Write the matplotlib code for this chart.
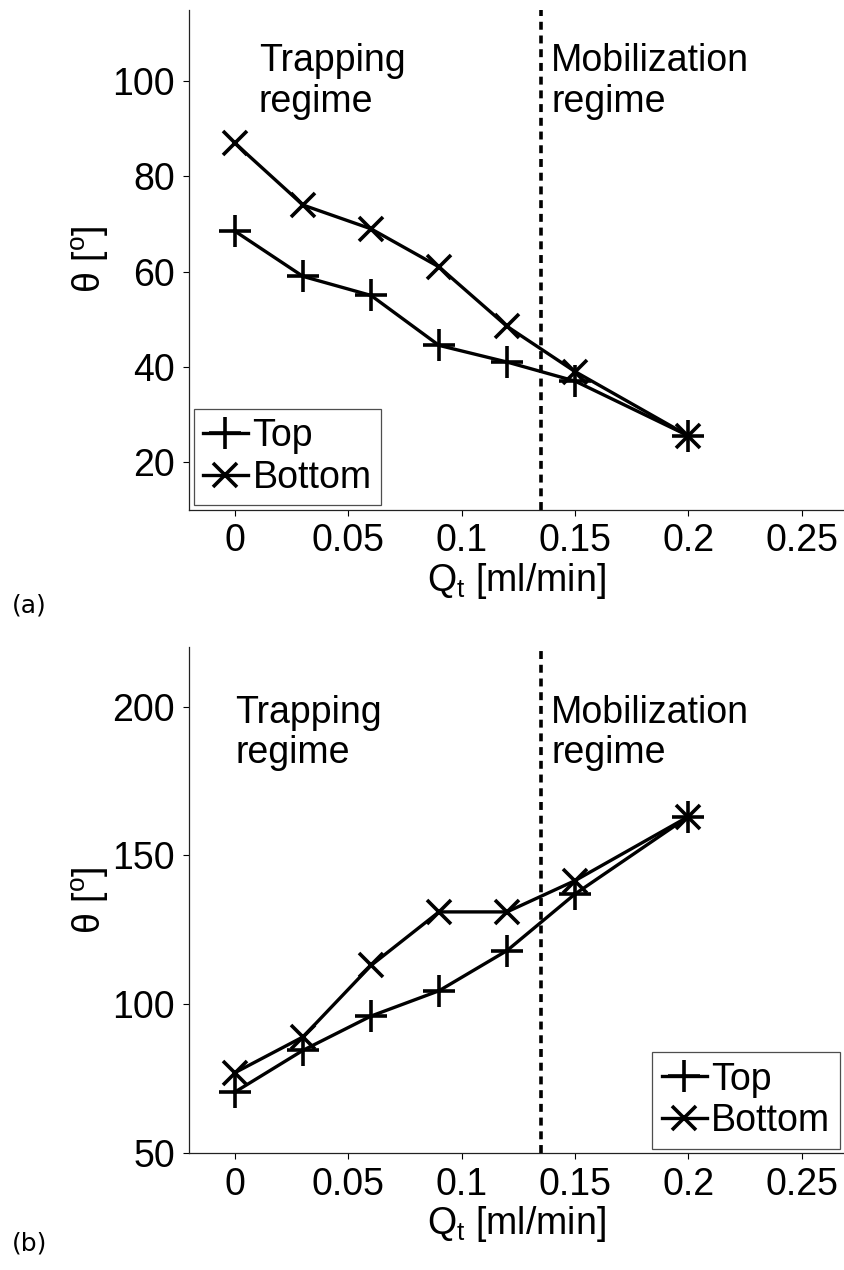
import matplotlib
matplotlib.use("Agg")
import matplotlib.pyplot as plt

plt.rcParams["font.family"] = ["Liberation Sans", "DejaVu Sans"]
plt.rcParams["mathtext.fontset"] = "custom"
plt.rcParams["mathtext.rm"] = "Liberation Sans"
plt.rcParams["mathtext.it"] = "Liberation Sans:italic"

# Flow rates [ml/min]
q_t = [0.0, 0.03, 0.06, 0.09, 0.12, 0.15, 0.20]

# Panel (a): contact angles
theta_a_top = [68.5, 59, 55, 44.5, 41, 37, 25.5]
theta_a_bottom = [87, 74, 69, 61, 48.5, 39, 25.5]

# Panel (b): contact angles
theta_b_top = [70.5, 84.5, 96, 104.5, 118, 137, 163]
theta_b_bottom = [77, 89, 113, 131, 131, 141.5, 163]

q_transition = 0.135
x_ticks = [0, 0.05, 0.1, 0.15, 0.2, 0.25]
x_tick_labels = ["0", "0.05", "0.1", "0.15", "0.2", "0.25"]
y_ticks_a = [20, 40, 60, 80, 100]
y_ticks_b = [50, 100, 150, 200]
series_labels = ["Top", "Bottom"]

FS = 27
W, H = 844, 1270
fig = plt.figure(figsize=(W / 100, H / 100), dpi=100)

left_px, right_px = 189, 844
ax_a = fig.add_axes([left_px / W, 1 - 509.5 / H, (right_px - left_px) / W, (509.5 - 10) / H])
ax_b = fig.add_axes([left_px / W, 1 - 1153 / H, (right_px - left_px) / W, (1153 - 647) / H])


def style_axes(ax, ylim, yticks):
    ax.set_xlim(-0.0203, 0.2687)
    ax.set_ylim(*ylim)
    ax.set_xticks(x_ticks)
    ax.set_xticklabels(x_tick_labels)
    ax.set_yticks(yticks)
    ax.tick_params(direction="out", length=4, width=0.8, labelsize=FS, pad=6,
                   colors="black")
    for side in ("top", "right"):
        ax.spines[side].set_visible(False)
    for side in ("left", "bottom"):
        ax.spines[side].set_linewidth(0.9)
        ax.spines[side].set_color("#222222")
    ax.set_xlabel(r"Q$_\mathrm{t}$ [ml/min]", fontsize=FS, labelpad=1)
    ax.set_ylabel(r"θ [$^\mathrm{o}$]", fontsize=FS, labelpad=1)
    ax.axvline(q_transition, color="black", linestyle=(0, (2.2, 1.6)), linewidth=2.6)


def plot_series(ax, top, bottom):
    kw = dict(color="black", linewidth=2.4, markeredgewidth=2.6)
    ax.plot(q_t, top, marker="+", markersize=23, label=series_labels[0], **kw)
    ax.plot(q_t, bottom, marker="x", markersize=17, label=series_labels[1], **kw)


plot_series(ax_a, theta_a_top, theta_a_bottom)
style_axes(ax_a, (10, 115), y_ticks_a)
ax_a.text(0.0105, 108, "Trapping\nregime", fontsize=FS, va="top", ha="left", linespacing=1.17)
ax_a.text(0.1395, 108, "Mobilization\nregime", fontsize=FS, va="top", ha="left", linespacing=1.17)

plot_series(ax_b, theta_b_top, theta_b_bottom)
style_axes(ax_b, (50, 220), y_ticks_b)
ax_b.text(0.0, 204, "Trapping\nregime", fontsize=FS, va="top", ha="left", linespacing=1.17)
ax_b.text(0.1395, 204, "Mobilization\nregime", fontsize=FS, va="top", ha="left", linespacing=1.17)

legend_kw = dict(fontsize=FS, frameon=True, fancybox=False, handlelength=1.2,
                 handletextpad=0.12, labelspacing=0.15, borderpad=0.25,
                 borderaxespad=0.12)
leg_a = ax_a.legend(loc="lower left", **legend_kw)
leg_b = ax_b.legend(loc="lower right", **legend_kw)
for leg in (leg_a, leg_b):
    leg.get_frame().set_edgecolor("#222222")
    leg.get_frame().set_linewidth(0.9)

fig.text(12 / W, 1 - 606 / H, "(a)", fontsize=18, family="DejaVu Sans", va="center", ha="left")
fig.text(12 / W, 1 - 1244 / H, "(b)", fontsize=18, family="DejaVu Sans", va="center", ha="left")

fig.savefig("out.png", dpi=100)
